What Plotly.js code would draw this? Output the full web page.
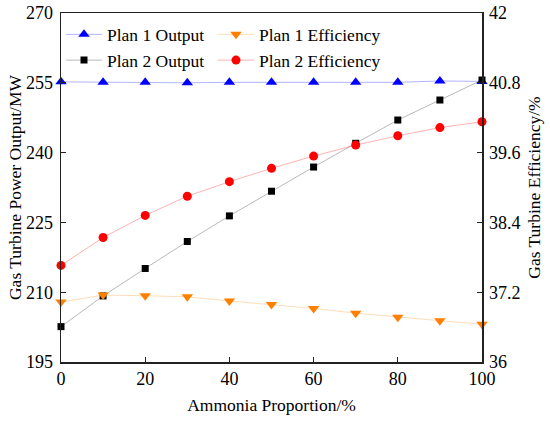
<!DOCTYPE html>
<html><head><meta charset="utf-8">
<script src="https://cdn.plot.ly/plotly-3.0.1.min.js"></script>
<style>html,body{margin:0;padding:0;background:#fff}#c{width:550px;height:423px}</style>
</head><body><div id="c"></div>
<script>
const ammonia = [0,10,20,30,40,50,60,70,80,90,100];
const plan1Output = [255.2,255.1,255.1,255.0,255.1,255.1,255.1,255.1,255.1,255.4,255.3];
const plan2Output = [202.6,209.2,215.1,220.9,226.4,231.7,236.9,242.0,247.0,251.3,255.6];
const plan1Eff = [37.03,37.15,37.14,37.12,37.05,36.99,36.92,36.84,36.77,36.71,36.65];
const plan2Eff = [37.66,38.14,38.52,38.85,39.10,39.33,39.54,39.73,39.89,40.03,40.13];
const xTicks = [0,20,40,60,80,100];
const yTicks = [195,210,225,240,255,270];
const y2Ticks = [36,37.2,38.4,39.6,40.8,42];

const F = 'Liberation Serif';
const traces = [
 {x:ammonia,y:plan1Output,name:'Plan 1 Output',mode:'lines+markers',cliponaxis:false,legend:'legend',
  line:{color:'rgba(0,0,255,0.3)',width:1},marker:{symbol:'triangle-up',size:10,color:'#0000ff'}},
 {x:ammonia,y:plan2Output,name:'Plan 2 Output',mode:'lines+markers',cliponaxis:false,legend:'legend',
  line:{color:'rgba(0,0,0,0.28)',width:1},marker:{symbol:'square',size:7,color:'#000'}},
 {x:ammonia,y:plan1Eff,name:'Plan 1 Efficiency',yaxis:'y2',mode:'lines+markers',cliponaxis:false,legend:'legend2',
  line:{color:'rgba(255,128,0,0.28)',width:1},marker:{symbol:'triangle-down',size:10,color:'#ff8000'}},
 {x:ammonia,y:plan2Eff,name:'Plan 2 Efficiency',yaxis:'y2',mode:'lines+markers',cliponaxis:false,legend:'legend2',
  line:{color:'rgba(255,0,0,0.3)',width:1},marker:{symbol:'circle',size:9,color:'#ff0000'}}
];
const ax = {showline:true,linecolor:'#222',linewidth:1.5,showgrid:false,zeroline:false,
  tickfont:{family:F,size:18,color:'#000'},ticks:'inside',ticklen:5,tickcolor:'#222',tickwidth:1.2};
const leg = {orientation:'v',y:0.99,xanchor:'left',yanchor:'top',
   font:{family:F,size:17.5,color:'#000'},bgcolor:'rgba(0,0,0,0)',tracegroupgap:0,itemwidth:36};
const layout = {
 width:550,height:423,margin:{l:61,r:68,t:13,b:61},
 paper_bgcolor:'#fff',plot_bgcolor:'#fff',font:{family:F,color:'#000'},
 showlegend:true,
 legend:Object.assign({},leg,{x:0.0}),
 legend2:Object.assign({},leg,{x:0.361}),
 xaxis:Object.assign({},ax,{range:[0,100],tickvals:xTicks,mirror:true,ticklabelstandoff:0,
   title:{text:'Ammonia Proportion/%',font:{family:F,size:17.5},standoff:10}}),
 yaxis:Object.assign({},ax,{range:[195,270],tickvals:yTicks,ticklabelstandoff:3,
   title:{text:'Gas Turbine Power Output/MW',font:{family:F,size:17.5},standoff:0}}),
 yaxis2:Object.assign({},ax,{range:[36,42],tickvals:y2Ticks,ticktext:y2Ticks.map(String),ticklabelstandoff:2,
   overlaying:'y',side:'right',
   title:{text:'Gas Turbine Efficiency/%',font:{family:F,size:17.5},standoff:8}})
};
Plotly.newPlot('c',traces,layout,{staticPlot:true});
</script></body></html>
